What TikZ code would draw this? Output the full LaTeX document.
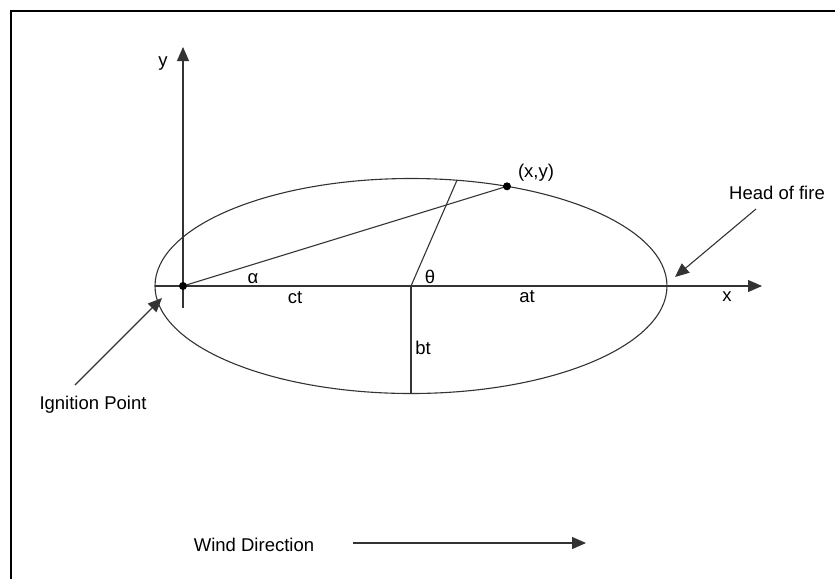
\documentclass[tikz,border=0pt]{standalone}
\usepackage{fontspec}
\setmainfont{Liberation Sans}
\usetikzlibrary{arrows.meta}
\begin{document}
\begin{tikzpicture}[x=1pt,y=-1pt,
  line/.style={line width=1.1pt, draw=black!80},
  tip/.style={-{Triangle[length=14pt,width=12pt]}},
  lbl/.style={inner sep=0pt, font=\fontsize{18.5}{20}\selectfont}]
\useasboundingbox (0,0) rectangle (835,579);
\draw[line width=2pt] (11,579) -- (11,10.5) -- (835,10.5);
% points
\coordinate (O) at (183,286);
\coordinate (C) at (411,286);
\coordinate (L) at (155,286);
\coordinate (Xend) at (762,286);
\coordinate (Ybot) at (183,308);
\coordinate (Yend) at (183,47);
\coordinate (P) at (507,186.3);
\coordinate (Q) at (457,180.2);
\coordinate (B) at (411,393.5);
\coordinate (IgS) at (75,385);
\coordinate (IgT) at (162,298);
\coordinate (HfS) at (756,209);
\coordinate (HfT) at (675,277);
\coordinate (WS) at (353,543);
\coordinate (WT) at (586,543);
% ellipse and axes
\draw[line] (C) ellipse [x radius=256, y radius=107.5];
\draw[line,tip] (L) -- (Xend);
\draw[line,tip] (Ybot) -- (Yend);
\draw[line] (O) -- (P);
\draw[line] (C) -- (Q);
\draw[line] (C) -- (B);
\fill (O) circle (4);
\fill (P) circle (4);
% pointer arrows
\draw[line,tip] (IgS) -- (IgT);
\draw[line,tip] (HfS) -- (HfT);
\draw[line,tip] (WS) -- (WT);
% labels
\node[lbl] (ylab) at (163,64) {y};
\node[lbl] (xlab) at (727,297) {x};
\node[lbl] (xy) at (536,173) {(x,y)};
\node[lbl] (hf) at (777,193) {Head of fire};
\node[lbl] (al) at (253,279) {α};
\node[lbl] (ct) at (295,298) {ct};
\node[lbl] (th) at (430,277) {θ};
\node[lbl] (at) at (527,297) {at};
\node[lbl] (bt) at (423,348) {bt};
\node[lbl] (ig) at (93,405) {Ignition Point};
\node[lbl] (wd) at (254,545) {Wind Direction};
\end{tikzpicture}
\end{document}
